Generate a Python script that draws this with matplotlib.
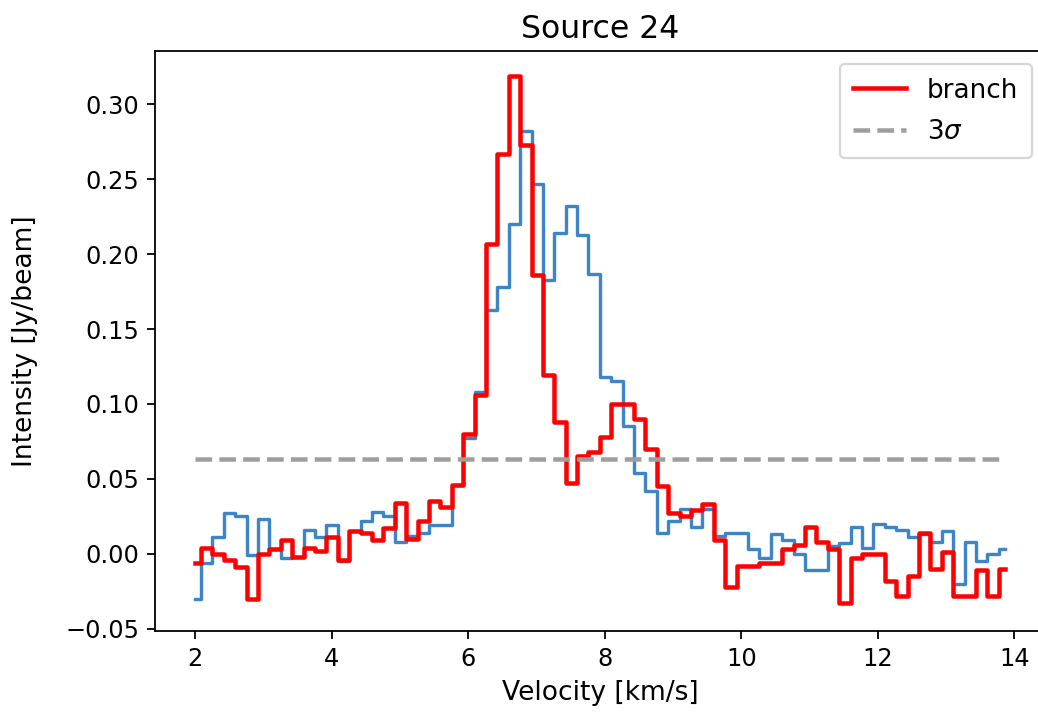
import numpy as np
import matplotlib.pyplot as plt

# channel grid of the spectrum
v_start = 2.0
dv = 0.167
n_chan = 72
velocity = v_start + dv * np.arange(n_chan)

# full-beam spectrum
spec_all = [-0.030, -0.006, 0.011, 0.027, 0.025, -0.001, 0.023, 0.003, -0.003, -0.002,
            0.016, 0.011, 0.019, -0.005, 0.015, 0.022, 0.028, 0.025, 0.008, 0.012,
            0.014, 0.019, 0.019, 0.046, 0.077, 0.108, 0.163, 0.178, 0.220, 0.282,
            0.247, 0.183, 0.214, 0.232, 0.213, 0.187, 0.118, 0.115, 0.085, 0.054,
            0.042, 0.014, 0.022, 0.030, 0.018, 0.030, 0.012, 0.014, 0.014, 0.003,
            -0.003, 0.013, 0.009, 0.000, -0.011, -0.011, 0.005, 0.007, 0.018, 0.004,
            0.020, 0.018, 0.016, 0.011, 0.013, 0.008, 0.015, -0.020, 0.008, -0.005,
            0.000, 0.003]

# branch spectrum
spec_branch = [-0.006, 0.004, 0.000, -0.004, -0.009, -0.030, 0.000, 0.003, 0.009, -0.002,
               0.004, 0.002, 0.011, -0.004, 0.015, 0.014, 0.009, 0.017, 0.034, 0.010,
               0.022, 0.035, 0.031, 0.046, 0.080, 0.106, 0.207, 0.267, 0.319, 0.273,
               0.186, 0.119, 0.088, 0.047, 0.065, 0.068, 0.078, 0.100, 0.100, 0.090,
               0.070, 0.045, 0.027, 0.025, 0.029, 0.033, 0.009, -0.022, -0.008, -0.008,
               -0.006, -0.006, 0.003, 0.006, 0.018, 0.008, 0.003, -0.033, -0.003, 0.000,
               0.000, -0.018, -0.028, -0.015, 0.014, -0.010, 0.001, -0.028, -0.028, -0.011,
               -0.028, -0.010]

sigma = 0.021

fig = plt.figure(figsize=(1038 / 162, 718 / 162), dpi=162)
ax = fig.add_axes([155 / 1038, 87 / 718, 890 / 1038, 580 / 718])

ax.step(velocity, spec_all, where="mid", color="#3d85c6", lw=1.5)
ax.step(velocity, spec_branch, where="mid", color="red", lw=2, label="branch")
ax.plot([velocity[0], velocity[-1]], [3 * sigma, 3 * sigma], "--",
        color="#9e9e9e", lw=2, label=r"3$\sigma$")

ax.set_xlim(1.41, 14.45)
ax.set_ylim(-0.0515, 0.3355)
ax.tick_params(labelsize=10.7)
ax.set_xlabel("Velocity [km/s]", fontsize=11.8)
ax.set_ylabel("Intensity [Jy/beam]", fontsize=11.8, labelpad=12)
ax.set_title("Source 24", fontsize=14)
ax.legend(loc="upper right", fontsize=11.7, labelspacing=0.58, borderpad=0.51)

fig.savefig("out.png", dpi=162)
